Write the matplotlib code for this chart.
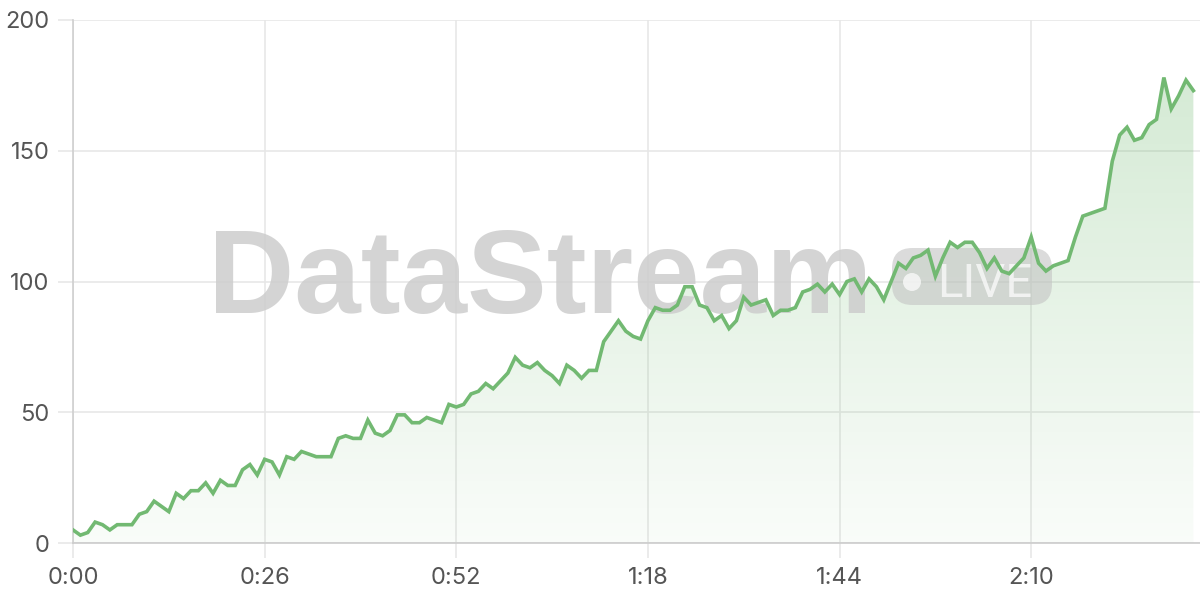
import numpy as np
import matplotlib.pyplot as plt
from matplotlib.patches import FancyBboxPatch, Circle

# one sample per second, 0:00 .. 2:32
values = [5, 3, 4, 8, 7, 5, 7, 7, 7, 11, 12, 16, 14, 12, 19, 17, 20, 20, 23, 19,
          24, 22, 22, 28, 30, 26, 32, 31, 26, 33, 32, 35, 34, 33, 33, 33, 40, 41, 40, 40,
          47, 42, 41, 43, 49, 49, 46, 46, 48, 47, 46, 53, 52, 53, 57, 58, 61, 59, 62, 65,
          71, 68, 67, 69, 66, 64, 61, 68, 66, 63, 66, 66, 77, 81, 85, 81, 79, 78, 85, 90,
          89, 89, 91, 98, 98, 91, 90, 85, 87, 82, 85, 94, 91, 92, 93, 87, 89, 89, 90, 96,
          97, 99, 96, 99, 95, 100, 101, 96, 101, 98, 93, 100, 107, 105, 109, 110, 112, 102, 109, 115,
          113, 115, 115, 111, 105, 109, 104, 103, 106, 109, 117, 107, 104, 106, 107, 108, 117, 125, 126, 127,
          128, 146, 156, 159, 154, 155, 160, 162, 178, 166, 171, 177, 173]
seconds = np.arange(len(values))

x_ticks = [0, 26, 52, 78, 104, 130]
x_tick_labels = ["0:00", "0:26", "0:52", "1:18", "1:44", "2:10"]
y_ticks = [0, 50, 100, 150, 200]

line_color = "#72b972"
grid_color = "#e6e6e6"
text_color = "#555555"

plt.rcParams['font.family'] = ['Inter', 'DejaVu Sans']

fig = plt.figure(figsize=(12, 6), dpi=100)
ax = fig.add_axes([73 / 1200, 57 / 600, 1 - 73 / 1200, (543 - 20) / 600])

ax.set_xlim(0, 152.9)
ax.set_ylim(0, 200)

# gradient area under the line
fill = ax.fill_between(seconds, values, 0, color="none", lw=0)
grad = np.zeros((256, 1, 4))
grad[:, 0, 0] = 0.45
grad[:, 0, 1] = 0.73
grad[:, 0, 2] = 0.45
grad[:, 0, 3] = np.linspace(0.04, 0.30, 256)
img = ax.imshow(grad, extent=[0, seconds[-1], 0, max(values)], origin="lower",
                aspect="auto", zorder=2)
img.set_clip_path(fill.get_paths()[0], transform=ax.transData)

ax.plot(seconds, values, color=line_color, lw=2.6, zorder=5, solid_joinstyle="miter")

# grid and axes
ax.set_xticks(x_ticks)
ax.set_xticklabels(x_tick_labels)
ax.set_yticks(y_ticks)
ax.grid(True, color=grid_color, lw=1.1, zorder=0)
ax.set_axisbelow(True)
for s in ["top", "right"]:
    ax.spines[s].set_visible(False)
ax.spines["left"].set_color("#cfcfcf")
ax.spines["bottom"].set_color("#cccccc")
ax.spines["left"].set_linewidth(1.2)
ax.spines["bottom"].set_linewidth(1.2)
ax.tick_params(axis="y", length=11, width=1.1, color=grid_color, pad=6,
               labelsize=17, labelcolor=text_color)
ax.tick_params(axis="x", length=11, width=1.1, color=grid_color, pad=6,
               labelsize=17, labelcolor=text_color)

# watermark, drawn between the area fill and the line
ax.text(540 / 1200, 1 - 313 / 600, "DataStream", transform=fig.transFigure,
        ha="center", va="baseline", fontsize=86, fontweight="bold",
        family="Liberation Sans", color="#cdcdcd", alpha=0.85, zorder=3, clip_on=False)
badge = FancyBboxPatch((892 / 1200, 1 - 305 / 600), 160 / 1200, 57 / 600,
                       boxstyle="round,pad=0,rounding_size=0.017",
                       transform=fig.transFigure, facecolor="#c4c4c4",
                       edgecolor="none", alpha=0.6, zorder=3,
                       mutation_aspect=2, clip_on=False)
ax.add_artist(badge)
ax.text(937 / 1200, 1 - 297 / 600, "LIVE", transform=fig.transFigure,
        ha="left", va="baseline", fontsize=34, family="Roboto",
        color="white", alpha=0.7, zorder=3, clip_on=False)
dot = Circle((912, 600 - 282), 9, transform=None, facecolor="white",
             edgecolor="none", alpha=0.7, zorder=3, clip_on=False)
ax.add_artist(dot)

fig.savefig("out.png", dpi=100)
